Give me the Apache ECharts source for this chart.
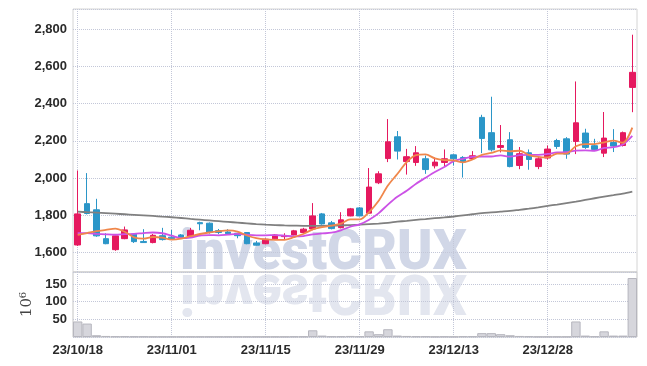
<!DOCTYPE html>
<html><head><meta charset="utf-8">
<script src="https://cdn.jsdelivr.net/npm/echarts@6/dist/echarts.min.js"></script>
<style>html,body{margin:0;padding:0;background:#fff}#c{width:647px;height:366px}</style>
</head><body><div id="c"></div>
<script>
const dates = ['23/10/18','23/10/19','23/10/20','23/10/23','23/10/24','23/10/25','23/10/26','23/10/27','23/10/30','23/10/31',
'23/11/01','23/11/02','23/11/03','23/11/06','23/11/07','23/11/08','23/11/09','23/11/10','23/11/13','23/11/14',
'23/11/15','23/11/16','23/11/17','23/11/20','23/11/21','23/11/22','23/11/23','23/11/24','23/11/27','23/11/28',
'23/11/29','23/11/30','23/12/01','23/12/04','23/12/05','23/12/06','23/12/07','23/12/08','23/12/11','23/12/12',
'23/12/13','23/12/14','23/12/15','23/12/18','23/12/19','23/12/20','23/12/21','23/12/22','23/12/26','23/12/27',
'23/12/28','24/01/02','24/01/03','24/01/04','24/01/05','24/01/08','24/01/09','24/01/10','24/01/11','24/01/12'];
const opens  = [1641,1863,1830,1675,1616,1675,1699,1660,1654,1691,1683,1695,1688,1761,1758,1718,1711,1704,1708,1652,
1648,1674,1686,1695,1708,1727,1808,1760,1734,1797,1840,1812,1975,2105,2222,2089,2084,2104,2066,2084,
2125,2111,2105,2326,2244,2165,2206,2068,2136,2062,2108,2202,2211,2197,2242,2174,2134,2191,2175,2487];
const closes = [1808,1810,1690,1648,1690,1722,1659,1654,1693,1670,1675,1681,1720,1755,1710,1708,1702,1691,1648,1640,
1672,1695,1691,1717,1726,1797,1754,1729,1776,1835,1797,1952,2023,2195,2145,2115,2136,2046,2086,2104,
2104,2086,2120,2213,2152,2175,2062,2131,2100,2104,2156,2170,2129,2297,2165,2154,2215,2172,2244,2568];
const lows   = [1636,1805,1685,1645,1610,1672,1652,1652,1650,1665,1672,1675,1685,1720,1702,1699,1695,1677,1645,1638,
1645,1672,1673,1693,1705,1720,1750,1725,1730,1795,1795,1808,1968,2086,2100,2019,2066,2023,2052,2061,
2068,2003,2100,2134,2143,2138,2058,2048,2045,2048,2100,2157,2104,2129,2157,2147,2113,2140,2170,2354];
const highs  = [2041,2027,1889,1704,1692,1740,1704,1726,1700,1733,1722,1700,1733,1766,1762,1727,1726,1706,1710,1663,
1677,1700,1704,1722,1733,1866,1813,1770,1817,1840,1845,2054,2037,2317,2253,2157,2172,2121,2111,2154,
2128,2118,2145,2340,2437,2285,2247,2167,2154,2116,2175,2211,2220,2519,2265,2211,2355,2263,2250,2770];
const ma5    = [1695,1705,1715,1722,1729,1712,1682,1675,1684,1680,1670,1675,1688,1700,1708,1715,1719,1713,1692,1678,
1671,1669,1669,1683,1700,1725,1737,1745,1756,1778,1778,1818,1877,1960,2022,2086,2123,2127,2106,2097,
2095,2085,2100,2125,2135,2149,2144,2147,2124,2114,2111,2132,2132,2171,2183,2183,2192,2201,2190,2271];
const ma10   = [1704,1705,1701,1698,1696,1699,1701,1705,1708,1704,1691,1678,1681,1692,1694,1693,1697,1701,1696,1693,
1693,1694,1691,1687,1689,1698,1703,1707,1720,1739,1752,1777,1811,1858,1900,1932,1970,2002,2033,2060,
2091,2104,2114,2116,2116,2122,2115,2123,2125,2125,2130,2138,2139,2148,2149,2147,2162,2166,2181,2227];
const maLong = [1820,1817,1815,1812,1809,1806,1803,1800,1797,1793,1790,1786,1781,1777,1773,1769,1765,1761,1757,1753,
1750,1748,1746,1745,1744,1744,1744,1745,1746,1748,1750,1753,1756,1760,1766,1771,1776,1780,1785,1789,
1794,1800,1806,1812,1816,1820,1824,1830,1836,1843,1851,1858,1866,1874,1883,1892,1901,1909,1917,1928];
const volumes = [44,38,5,3,2,2,1.5,1.5,1,1,1,1,1,1,1,1,1,1,1,1,
1,1,1,1.5,1.5,19,4,2,2,3,2,16,8,22,4,3,2,2,1,1.5,
1,2,2,11,11,8,5,3,2,1,1,1,1,44,4,2,16,4,4,167];
const watermark = 'investCRUX';
const volumeUnit = '10⁶';

const FONT = '"Liberation Sans",Arial,sans-serif';
const candleData = dates.map((d, i) => [opens[i], closes[i], lows[i], highs[i]]);
const gridLine = { show: true, lineStyle: { type: 'dotted', color: '#c3c7d8', width: 1 } };
const labelStyle = { fontFamily: FONT, fontSize: 13, fontWeight: 'bold', color: '#2a2a2a' };

const chart = echarts.init(document.getElementById('c'), null, { renderer: 'canvas' });
chart.setOption({
  animation: false,
  backgroundColor: '#fff',
  grid: [
    { left: 73, right: 10, top: 9, height: 263, show: true, borderColor: '#d4d4d4', borderWidth: 1 },
    { left: 73, right: 10, top: 272, height: 65, show: true, borderColor: '#c4c4c4', borderWidth: 1 }
  ],
  graphic: [
    { type: 'group', x: 180, y: 272, scaleX: 0.955, z: -10, silent: true,
      children: [{ type: 'text', z: -10, style: { text: watermark, x: 0, y: 11, font: '900 56px Roboto', fill: '#d1d7e7', verticalAlign: 'bottom' } }] },
    { type: 'group', x: 180, y: 272, scaleX: 0.955, scaleY: -1, z: -10, silent: true,
      children: [{ type: 'text', z: -10, style: { text: watermark, x: 0, y: 11, font: '900 56px Roboto', fill: '#e3e6ef', verticalAlign: 'bottom' } }] }
  ],
  xAxis: [
    { type: 'category', gridIndex: 0, data: dates, boundaryGap: true,
      axisLine: { show: false }, axisTick: { show: false }, axisLabel: { show: false },
      splitLine: Object.assign({ interval: 9, alignWithLabel: true }, gridLine) },
    { type: 'category', gridIndex: 1, data: dates, boundaryGap: true,
      axisLine: { show: false }, axisTick: { show: false },
      axisLabel: Object.assign({ interval: 9, margin: 7 }, labelStyle),
      splitLine: Object.assign({ interval: 9, alignWithLabel: true }, gridLine) }
  ],
  yAxis: [
    { type: 'value', gridIndex: 0, min: 1496, max: 2908, splitNumber: 7, scale: true,
      axisLine: { show: false }, axisTick: { show: false },
      axisLabel: Object.assign({ showMinLabel: false, showMaxLabel: false, margin: 6 }, labelStyle),
      splitLine: gridLine },
    { type: 'value', gridIndex: 1, min: 0, max: 184, interval: 50,
      name: volumeUnit, nameLocation: 'middle', nameRotate: 90, nameGap: 29,
      nameTextStyle: { fontFamily: '"DejaVu Serif",serif', fontSize: 15, color: '#444' },
      axisLine: { show: false }, axisTick: { show: false },
      axisLabel: Object.assign({ showMinLabel: false, showMaxLabel: false, margin: 6 }, labelStyle),
      splitLine: gridLine }
  ],
  series: [
    { type: 'candlestick', xAxisIndex: 0, yAxisIndex: 0, data: candleData, barWidth: 6,
      itemStyle: { color: '#e5195f', color0: '#2b96c8', borderColor: '#e5195f', borderColor0: '#2b96c8', borderWidth: 1 } },
    { type: 'line', xAxisIndex: 0, yAxisIndex: 0, data: maLong, symbol: 'none', smooth: 0.3,
      lineStyle: { color: '#808080', width: 1.8 } },
    { type: 'line', xAxisIndex: 0, yAxisIndex: 0, data: ma10, symbol: 'none', smooth: 0.3,
      lineStyle: { color: '#cc52e6', width: 1.8 } },
    { type: 'line', xAxisIndex: 0, yAxisIndex: 0, data: ma5, symbol: 'none', smooth: 0.3,
      lineStyle: { color: '#f0874b', width: 1.8 } },
    { type: 'bar', xAxisIndex: 1, yAxisIndex: 1, data: volumes, barCategoryGap: '0%',
      itemStyle: { color: '#d6d6dc', borderColor: '#b6b6be', borderWidth: 1 } }
  ]
});
</script></body></html>
